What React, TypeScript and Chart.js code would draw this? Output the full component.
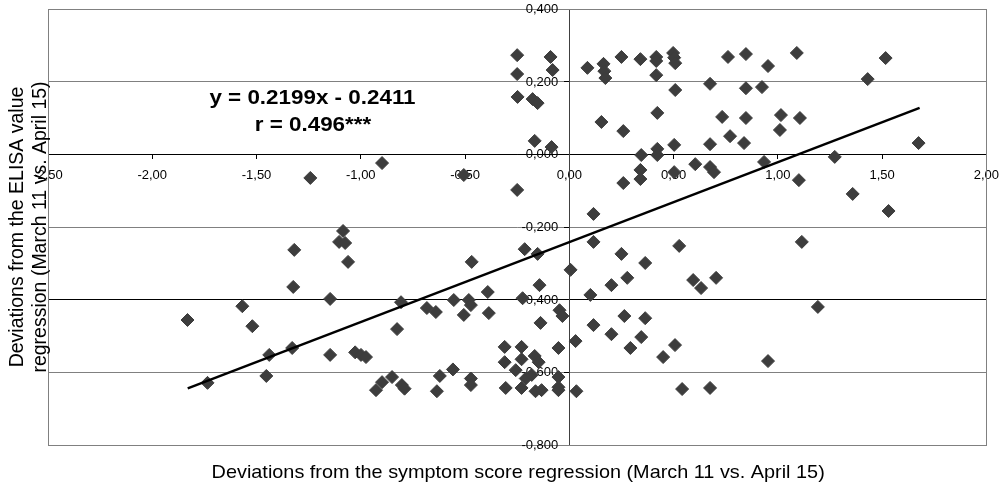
import React, { useEffect, useRef } from 'react';
import { Chart, registerables } from 'chart.js';

Chart.register(...registerables);

// ---- data ----
const xValues: number[] = [
  -0.25, -0.25, -0.09, -0.08, -0.248, -0.176, -0.152, -0.166, -0.085, -0.898,
  -0.506, -0.25, 0.116, 0.087, 0.164, 0.168, 0.173, 0.25, 0.341, 0.417,
  0.417, 0.417, 0.498, 0.503, 0.508, 0.508, 0.422, 0.154, 0.259, 0.422,
  0.422, 0.503, 0.345, 0.341, 0.341, 0.259, 0.503, 0.604, 0.675, 0.694,
  0.675, 0.675, 0.761, 0.847, 0.847, 0.924, 0.953, 0.733, 0.847, 0.771,
  0.838, 0.934, 1.015, 1.01, 1.091, 1.106, 1.101, 1.273, 1.359, 1.431,
  1.517, 1.531, 1.675, -1.242,
  0.527, 1.115, 0.116, 0.25, 0.364, 0.006, 0.278, 0.202, 0.101, 0.594,
  0.632, 0.704, 1.192, -0.047, -0.033, 0.264, 0.364, 0.116, 0.202, 0.345,
  0.03, -0.052, 0.293, 0.45, 0.507, 0.953, -0.052, -0.052, -0.052, 0.034,
  0.541, 0.675,
  -0.214, -0.152, -0.468, -0.143, -0.391, -0.807, -0.554, -0.482, -0.472, -0.224,
  -0.683, -0.64, -0.506, -0.386, -0.138, -0.826, -0.31, -0.229, -0.31, -0.229,
  -0.166, -0.147, -0.257, -0.558, -0.621, -0.85, -0.898, -0.927, -0.803, -0.79,
  -0.472, -0.472, -0.209, -0.305, -0.229, -0.162, -0.133, -0.635, -0.18,
  -1.085, -1.104, -1.075, -1.319, -1.061, -1.324, -1.147, -1.568, -1.831, -1.52,
  -1.439, -1.329, -1.147, -1.027, -0.999, -0.975, -1.735, -1.453,
];

const yValues: number[] = [
  0.273, 0.221, 0.268, 0.232, 0.158, 0.152, 0.141, 0.037, 0.02, -0.024,
  -0.057, -0.098, -0.164, 0.238, 0.249, 0.229, 0.21, 0.268, 0.262, 0.268,
  0.257, 0.218, 0.279, 0.266, 0.251, 0.177, 0.114, 0.089, 0.064, 0.015,
  -0.002, 0.026, -0.002, -0.043, -0.068, -0.079, -0.049, -0.027, -0.035, -0.049,
  0.028, 0.194, 0.268, 0.276, 0.182, 0.185, 0.243, 0.103, 0.1, 0.05,
  0.031, -0.021, 0.108, 0.067, 0.279, 0.1, -0.071, -0.007, -0.109, 0.207,
  0.265, -0.156, 0.031, -0.065,
  -0.252, -0.241, -0.241, -0.274, -0.299, -0.318, -0.34, -0.36, -0.387, -0.346,
  -0.368, -0.34, -0.42, -0.429, -0.445, -0.445, -0.451, -0.47, -0.495, -0.503,
  -0.514, -0.533, -0.533, -0.558, -0.525, -0.569, -0.613, -0.641, -0.649, -0.652,
  -0.646, -0.643,
  -0.261, -0.274, -0.296, -0.36, -0.379, -0.407, -0.401, -0.401, -0.415, -0.396,
  -0.423, -0.434, -0.442, -0.437, -0.464, -0.481, -0.53, -0.53, -0.572, -0.564,
  -0.555, -0.572, -0.594, -0.592, -0.61, -0.613, -0.627, -0.649, -0.635, -0.645,
  -0.617, -0.635, -0.617, -0.643, -0.643, -0.652, -0.649, -0.652, -0.607,
  -0.211, -0.241, -0.244, -0.263, -0.296, -0.365, -0.398, -0.418, -0.456, -0.473,
  -0.552, -0.533, -0.552, -0.545, -0.552, -0.558, -0.629, -0.61,
];

// regression line end points (as drawn in the reference)
const trendX: number[] = [-1.83, 1.68];
const trendY: number[] = [-0.644, 0.128];

const xAxisTitle = 'Deviations from the symptom score regression (March 11 vs. April 15)';
const yAxisTitleLines: string[] = ['Deviations from the ELISA value', 'regression (March 11 vs. April 15)'];
const equationLines: string[] = ['y = 0.2199x - 0.2411', 'r = 0.496***'];

const xMin = -2.5, xMax = 2.0, xStep = 0.5;
const yMin = -0.8, yMax = 0.4, yStep = 0.2;

const FONT = '"Liberation Sans", Arial, Helvetica, sans-serif';

function fmt(v: number, d: number): string {
  const n = Math.abs(v) < 1e-9 ? 0 : v;
  return n.toFixed(d).replace('.', ',');
}

function drawStretched(ctx: CanvasRenderingContext2D, text: string, x: number, y: number, sx: number) {
  ctx.save();
  ctx.translate(x, y);
  ctx.scale(sx, 1);
  ctx.fillText(text, 0, 0);
  ctx.restore();
}

const decorPlugin = {
  id: 'decor',
  beforeDatasetsDraw(chart: any) {
    const { ctx, chartArea: a } = chart;
    ctx.save();
    ctx.strokeStyle = '#808080';
    ctx.lineWidth = 1;
    ctx.strokeRect(Math.round(a.left) + 0.5, Math.round(a.top) + 0.5,
      Math.round(a.right) - Math.round(a.left), Math.round(a.bottom) - Math.round(a.top));
    // y tick labels, left of the y axis (which crosses at x = 0)
    const xs = chart.scales.x;
    const ys = chart.scales.y;
    const axisX = xs.getPixelForValue(0);
    ctx.fillStyle = '#000';
    ctx.font = `13px ${FONT}`;
    ctx.textAlign = 'right';
    ctx.textBaseline = 'middle';
    ys.ticks.forEach((t: any) => {
      ctx.fillText(fmt(t.value, 3), axisX - 11, ys.getPixelForValue(t.value) + 0.5);
    });
    ctx.restore();
  },
  afterDraw(chart: any) {
    const { ctx, chartArea: a } = chart;
    ctx.save();
    ctx.fillStyle = '#000';
    // x axis title
    ctx.font = `19px ${FONT}`;
    ctx.textAlign = 'center';
    ctx.textBaseline = 'alphabetic';
    drawStretched(ctx, xAxisTitle, (a.left + a.right) / 2 + 1, 478, 1.045);
    // y axis title (rotated)
    ctx.font = `19.5px ${FONT}`;
    const cy = (a.top + a.bottom) / 2;
    const baselines = [23, 46];
    yAxisTitleLines.forEach((line, i) => {
      ctx.save();
      ctx.translate(baselines[i], cy);
      ctx.rotate(-Math.PI / 2);
      ctx.fillText(line, 0, 0);
      ctx.restore();
    });
    // equation
    ctx.font = `bold 20px ${FONT}`;
    drawStretched(ctx, equationLines[0], 312.5, 104, 1.12);
    drawStretched(ctx, equationLines[1], 313, 130.5, 1.12);
    ctx.restore();
  },
};

export default function App() {
  const canvasRef = useRef<HTMLCanvasElement | null>(null);

  useEffect(() => {
    if (!canvasRef.current) return;
    const points = xValues.map((x, i) => ({ x, y: yValues[i] }));
    const trend = trendX.map((x, i) => ({ x, y: trendY[i] }));
    const chart = new Chart(canvasRef.current, {
      type: 'scatter',
      data: {
        datasets: [
          {
            type: 'line',
            label: 'Regression',
            data: trend,
            borderColor: '#000',
            borderWidth: 2.5,
            pointRadius: 0,
            fill: false,
            order: 0,
          } as any,
          {
            label: 'Deviations',
            data: points,
            pointStyle: 'rectRot',
            pointRadius: 6.5,
            pointBorderWidth: 1,
            backgroundColor: '#3d3d3d',
            borderColor: '#3d3d3d',
            order: 1,
          } as any,
        ],
      },
      options: {
        responsive: false,
        devicePixelRatio: 1,
        animation: false,
        layout: { padding: { left: 48, top: 9, right: 19, bottom: 40 } },
        plugins: { legend: { display: false }, tooltip: { enabled: false }, title: { display: false } },
        scales: {
          x: {
            type: 'linear',
            min: xMin,
            max: xMax,
            position: { y: 0 } as any,
            ticks: {
              stepSize: xStep,
              autoSkip: false,
              maxRotation: 0,
              padding: 9,
              color: '#000',
              font: { family: FONT, size: 13 },
              callback: (v: any) => fmt(Number(v), 2),
            },
            grid: { drawOnChartArea: false, drawTicks: true, tickLength: 4, tickColor: '#000', tickWidth: 1 },
            border: { display: true, color: '#000', width: 1 },
          },
          y: {
            type: 'linear',
            min: yMin,
            max: yMax,
            position: { x: 0 } as any,
            ticks: {
              stepSize: yStep,
              autoSkip: false,
              display: false,
              callback: (v: any) => fmt(Number(v), 3),
            },
            grid: {
              drawTicks: true,
              tickLength: 5,
              tickColor: '#000',
              lineWidth: 1,
              color: (c: any) => {
                const v = c.tick ? c.tick.value : 0;
                if (Math.abs(v) < 1e-9) return '#000';
                if (Math.abs(v + 0.4) < 1e-9) return '#000';
                return '#808080';
              },
            },
            border: { display: true, color: '#404040', width: 1 },
          },
        },
      },
      plugins: [decorPlugin],
    });
    return () => chart.destroy();
  }, []);

  return (
    <div style={{ position: 'absolute', left: 0, top: 0, width: 1008, height: 485, background: '#fff' }}>
      <canvas ref={canvasRef} width={1008} height={485} style={{ display: 'block' }} />
    </div>
  );
}
